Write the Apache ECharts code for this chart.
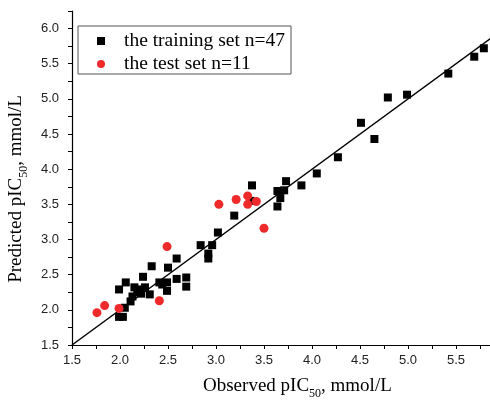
<!DOCTYPE html>
<html>
<head>
<meta charset="utf-8">
<script src="https://cdn.jsdelivr.net/npm/echarts@6/dist/echarts.min.js"></script>
<style>html,body{margin:0;padding:0;background:#fff;}#c{width:490px;height:403px;}</style>
</head>
<body>
<div id="c"></div>
<script>
// Training set (observed, predicted)
var trainObserved = [1.99,1.99,2.03,2.05,2.06,2.11,2.13,2.15,2.20,2.22,2.24,2.26,2.31,2.33,2.41,2.44,2.49,2.49,2.50,2.59,2.59,2.69,2.69,2.84,2.92,2.92,2.96,3.02,3.19,3.375,3.64,3.67,3.64,3.71,3.73,3.89,4.05,4.27,4.51,4.65,4.79,4.99,5.42,5.69,5.79,3.36,2.18];
var trainPredicted = [2.29,1.90,1.90,2.03,2.39,2.12,2.19,2.32,2.29,2.23,2.47,2.32,2.22,2.62,2.39,2.36,2.39,2.27,2.60,2.73,2.44,2.46,2.33,2.92,2.80,2.73,2.92,3.10,3.34,3.77,3.47,3.59,3.69,3.70,3.83,3.77,3.94,4.17,4.66,4.43,5.02,5.06,5.36,5.60,5.72,3.55,2.25];
// Test set (observed, predicted)
var testObserved = [1.76,1.84,1.99,2.41,2.49,3.03,3.21,3.33,3.33,3.42,3.50];
var testPredicted = [1.96,2.06,2.02,2.13,2.90,3.50,3.57,3.62,3.50,3.54,3.16];
// Reference line y = x
var lineX = [1.5, 6.0];
var lineY = [1.5, 6.0];
var seriesNames = ['the training set n=47', 'the test set n=11'];
var tickLabels = ['1.5','2.0','2.5','3.0','3.5','4.0','4.5','5.0','5.5','6.0'];

function zip(a, b) { return a.map(function (v, i) { return [v, b[i]]; }); }
function fmt(v) {
  var s = v.toFixed(1);
  return (Math.abs(v * 2 - Math.round(v * 2)) < 1e-6 && tickLabels.indexOf(s) >= 0) ? s : '';
}

var chart = echarts.init(document.getElementById('c'), null, {renderer: 'canvas'});
var axisCommon = {
  type: 'value',
  interval: 0.25,
  axisLine: {onZero: false, lineStyle: {color: '#000', width: 1.2}},
  axisTick: {inside: false, length: 4, lineStyle: {color: '#000', width: 1}},
  splitLine: {show: false},
  axisLabel: {fontFamily: 'Liberation Sans', fontSize: 13, color: '#222', formatter: fmt, showMaxLabel: true}
};
var richStyle = {
  a: {fontFamily: 'Liberation Serif', fontSize: 19, color: '#000', lineHeight: 22, verticalAlign: 'top'},
  s: {fontFamily: 'Liberation Serif', fontSize: 12, color: '#000', lineHeight: 22, verticalAlign: 'top', padding: [11, 0, 0, 0]}
};
chart.setOption({
  animation: false,
  backgroundColor: '#fff',
  grid: {left: 72, width: 432, top: 11, bottom: 58, containLabel: false, outerBoundsMode: 'none'},
  xAxis: Object.assign({}, axisCommon, {min: 1.5, max: 6.0,
    axisLabel: Object.assign({}, axisCommon.axisLabel, {margin: 9})}),
  yAxis: Object.assign({}, axisCommon, {min: 1.5, max: 6.25,
    axisLabel: Object.assign({}, axisCommon.axisLabel, {margin: 13})}),
  legend: {
    orient: 'vertical',
    left: 78, top: 26,
    padding: [5, 6, 0, 19],
    itemGap: 3,
    itemWidth: 36, itemHeight: 8,
    borderColor: '#555', borderWidth: 1,
    backgroundColor: '#fff',
    textStyle: {fontFamily: 'Liberation Serif', fontSize: 19.5, color: '#000', lineHeight: 20},
    data: [
      {name: seriesNames[0], icon: 'path://M0,0L8,0L8,8L0,8Z'},
      {name: seriesNames[1], icon: 'circle'}
    ]
  },
  graphic: [
    {type: 'text', left: 203, top: 377,
     style: {text: '{a|Observed pIC}{s|50}{a|, mmol/L}', rich: richStyle}},
    {type: 'text', x: 18, y: 189, rotation: Math.PI / 2,
     style: {text: '{a|Predicted pIC}{s|50}{a|, mmol/L}', align: 'center', verticalAlign: 'middle', rich: richStyle}}
  ],
  series: [
    {type: 'line', data: zip(lineX, lineY), symbol: 'none', silent: true,
     lineStyle: {color: '#000', width: 1.5}, z: 1, legendHoverLink: false},
    {name: seriesNames[0], type: 'scatter', symbol: 'rect', symbolSize: 8,
     itemStyle: {color: '#000', opacity: 1}, data: zip(trainObserved, trainPredicted), z: 2},
    {name: seriesNames[1], type: 'scatter', symbol: 'circle', symbolSize: 9,
     itemStyle: {color: '#ee2a2a', opacity: 1}, data: zip(testObserved, testPredicted), z: 3}
  ]
});
</script>
</body>
</html>
